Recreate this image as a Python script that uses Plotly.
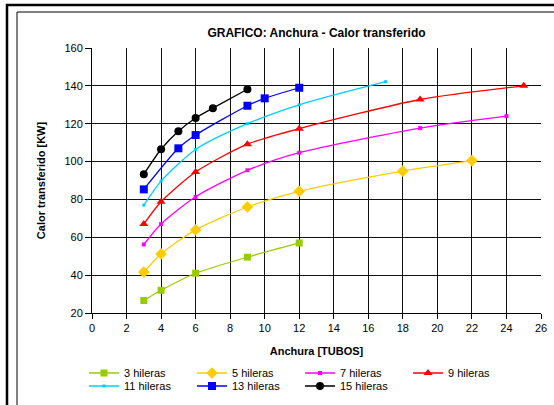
import plotly.graph_objects as go

# ---- data ----
x3 = [3, 4, 6, 9, 12]
y3 = [26.6, 32.0, 41.0, 49.5, 57.0]
x5 = [3, 4, 6, 9, 12, 18, 22]
y5 = [41.6, 51.2, 63.9, 76.0, 84.3, 95.0, 100.5]
x7 = [3, 4, 6, 9, 12, 19, 24]
y7 = [56.2, 67.0, 81.4, 95.4, 104.7, 117.7, 124.0]
x9 = [3, 4, 6, 9, 12, 19, 25]
y9 = [67.0, 78.8, 94.5, 109.2, 117.4, 132.8, 140.0]
x11 = [3, 4, 6, 9, 12, 17]
y11 = [77.0, 89.7, 106.4, 120.0, 130.0, 142.2]
x13 = [3, 5, 6, 9, 10, 12]
y13 = [85.3, 107.0, 114.0, 129.5, 133.4, 139.0]
x15 = [3, 4, 5, 6, 7, 9]
y15 = [93.3, 106.5, 116.0, 123.0, 128.2, 138.2]

names = ["3 hileras", "5 hileras", "7 hileras", "9 hileras",
         "11 hileras", "13 hileras", "15 hileras"]

FONT = "Liberation Sans, Arial, sans-serif"

series = [
    (x3, y3, names[0], "#99CC00", "square", 7, "legend"),
    (x5, y5, names[1], "#FFCC00", "diamond", 9, "legend"),
    (x7, y7, names[2], "#FF00FF", "square", 4, "legend"),
    (x9, y9, names[3], "#FF0000", "triangle-up", 8, "legend"),
    (x11, y11, names[4], "#00CCFF", "square", 3, "legend2"),
    (x13, y13, names[5], "#0000FF", "square", 8, "legend2"),
    (x15, y15, names[6], "#000000", "circle", 8, "legend2"),
]

fig = go.Figure()
for xs, ys, nm, col, sym, sz, lg in series:
    fig.add_trace(go.Scatter(
        x=xs, y=ys, name=nm, mode="lines+markers",
        line=dict(color=col, width=1.3, shape="spline", smoothing=0.7),
        marker=dict(symbol=sym, size=sz, color=col, line=dict(width=0)),
        legend=lg,
    ))

W, H = 554, 405
L, R, T, B = 92, 13, 48, 92
pw, ph = W - L - R, H - T - B


def px(x):
    return (x - L) / pw


def py(y):
    return (H - B - y) / ph


shapes = [
    dict(type="rect", xref="paper", yref="paper",
         x0=px(7), x1=px(600), y0=py(5), y1=py(450),
         line=dict(color="black", width=2.5), layer="above"),
    dict(type="rect", xref="paper", yref="paper",
         x0=px(17), x1=px(600), y0=py(12), y1=py(450),
         line=dict(color="black", width=1), layer="above"),
]

leg_common = dict(orientation="h", xanchor="left", yanchor="middle",
                  entrywidth=63, entrywidthmode="pixels",
                  font=dict(size=11), bgcolor="rgba(0,0,0,0)",
                  itemclick=False, tracegroupgap=0)

fig.update_layout(
    width=W, height=H,
    margin=dict(l=L, r=R, t=T, b=B, autoexpand=False),
    paper_bgcolor="white", plot_bgcolor="white",
    font=dict(family=FONT, size=11, color="black"),
    title=dict(text="<b>GRAFICO: Anchura - Calor transferido</b>",
               font=dict(family=FONT, size=12, color="black"),
               x=0.5, xref="paper", y=1 - 33 / H, yref="container",
               yanchor="middle", xanchor="center"),
    xaxis=dict(range=[0, 26], dtick=2, tick0=0, showgrid=True,
               gridcolor="#111", gridwidth=1, showline=True,
               linecolor="black", linewidth=1, mirror=False,
               ticks="outside", ticklen=5, tickcolor="black",
               zeroline=False,
               title=dict(text="<b>Anchura [TUBOS]</b>", standoff=14,
                          font=dict(family=FONT, size=11))),
    yaxis=dict(range=[20, 160], dtick=20, tick0=20, showgrid=True,
               gridcolor="#111", gridwidth=1, showline=True,
               linecolor="black", linewidth=1,
               ticks="outside", ticklen=6, tickcolor="black",
               zeroline=False,
               title=dict(text="<b>Calor transferido [KW]</b>", standoff=16,
                          font=dict(family=FONT, size=11))),
    legend=dict(x=px(84), y=py(373), **leg_common),
    legend2=dict(x=px(84), y=py(386), **leg_common),
    shapes=shapes,
    showlegend=True,
)

fig.write_html(
    "out.html",
    config={"displayModeBar": False},
    post_script="document.body.style.margin='0';"
                "document.body.style.overflow='hidden';",
)
